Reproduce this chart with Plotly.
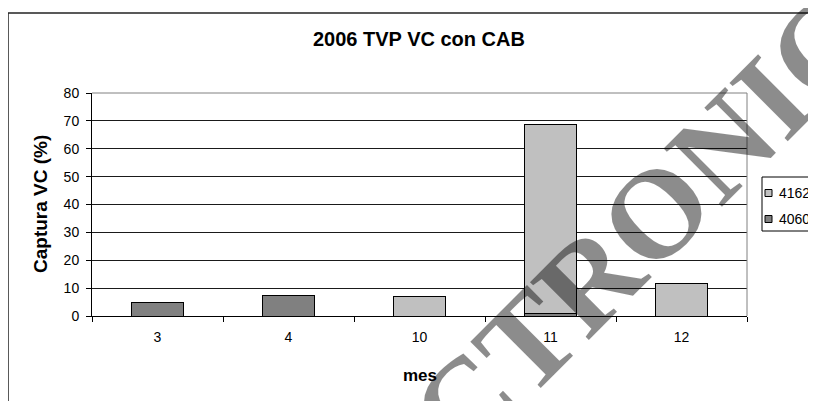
import plotly.graph_objects as go

# ---- data ----
months = ["3", "4", "10", "11", "12"]
serie_4060 = [5.0, 7.3, None, 1.0, None]
serie_4162 = [None, None, 6.9, 67.6, 11.8]
y_ticks = [0, 10, 20, 30, 40, 50, 60, 70, 80]
legend_names = ["4162", "4060"]
legend_colors = ["#C0C0C0", "#808080"]

# page is offset by the default 8px body margin
OFF = 8
W, H = 816 - OFF, 401 - OFF
# plot area in page pixels: x 92..747, y 93..316
L, R, T, B = 92 - OFF, 747 - OFF, 93 - OFF, 316 - OFF

def px(x):
    return (x - OFF - L) / (R - L)

def py(y):
    return (B - (y - OFF)) / (B - T)

fig = go.Figure()
fig.add_trace(go.Bar(
    x=months, y=serie_4060, name="4060",
    marker=dict(color="#808080", line=dict(color="#000000", width=1)),
))
fig.add_trace(go.Bar(
    x=months, y=serie_4162, name="4162",
    marker=dict(color="#C0C0C0", line=dict(color="#000000", width=1)),
))

font_family = "Liberation Sans, Arial, sans-serif"

shapes = [
    # plot area border (gray top/right)
    dict(type="line", xref="paper", yref="paper", x0=0, x1=1, y0=1, y1=1,
         line=dict(color="#808080", width=1)),
    dict(type="line", xref="paper", yref="paper", x0=1, x1=1, y0=0, y1=1,
         line=dict(color="#808080", width=1)),
    # outer chart frame (top + left edges visible)
    dict(type="line", xref="paper", yref="paper", x0=px(8), x1=px(840),
         y0=py(13), y1=py(13), line=dict(color="#222222", width=1.5)),
    dict(type="line", xref="paper", yref="paper", x0=px(8), x1=px(8),
         y0=py(13), y1=py(420), line=dict(color="#222222", width=1.5)),
    # legend box
    dict(type="rect", xref="paper", yref="paper", x0=px(762), x1=px(840),
         y0=py(231), y1=py(177), line=dict(color="#000000", width=1),
         fillcolor="white"),
]
annotations = []
leg_y = [193, 219]
for name, col, yy in zip(legend_names, legend_colors, leg_y):
    shapes.append(dict(type="rect", xref="paper", yref="paper",
                       x0=px(765), x1=px(772), y0=py(yy + 3.5), y1=py(yy - 3.5),
                       line=dict(color="#000000", width=1), fillcolor=col))
    annotations.append(dict(text=name, xref="paper", yref="paper",
                            x=px(777), y=py(yy), xanchor="left", yanchor="middle",
                            showarrow=False,
                            font=dict(size=14, family=font_family, color="#000")))

annotations += [
    dict(text="<b>2006 TVP VC con CAB</b>", xref="paper", yref="paper",
         x=px(419), y=py(39), xanchor="center", yanchor="middle",
         showarrow=False, font=dict(size=20, family=font_family, color="#000")),
    dict(text="<b>Captura VC (%)</b>", xref="paper", yref="paper",
         x=px(40), y=py(204), xanchor="center", yanchor="middle", textangle=-90,
         showarrow=False, font=dict(size=19, family=font_family, color="#000")),
    dict(text="<b>mes</b>", xref="paper", yref="paper",
         x=px(420), y=py(375), xanchor="center", yanchor="middle",
         showarrow=False, font=dict(size=17, family=font_family, color="#000")),
    # watermark
    dict(text="ELECTRONICO", xref="paper", yref="paper",
         x=px(588), y=py(280), xanchor="center", yanchor="middle", textangle=-45,
         showarrow=False,
         font=dict(size=126, family="Liberation Serif, Times New Roman, serif",
                   color="rgba(0,0,0,0.45)", weight="bold")),
]

fig.update_layout(
    width=W, height=H,
    margin=dict(l=L, r=W - R, t=T, b=H - B, autoexpand=False),
    paper_bgcolor="white", plot_bgcolor="white",
    barmode="stack", bargap=0.6,
    showlegend=False,
    font=dict(family=font_family, color="#000"),
    xaxis=dict(
        type="category", categoryorder="array", categoryarray=months,
        showgrid=False, showline=True, linecolor="#000", linewidth=1,
        ticks="outside", tickson="boundaries", ticklen=5, tickcolor="#000",
        tickfont=dict(size=14, family=font_family, color="#000"),
        ticklabelstandoff=8,
        zeroline=False,
    ),
    yaxis=dict(
        range=[0, 80], tickvals=y_ticks, showgrid=True, gridcolor="#1a1a1a",
        gridwidth=1, showline=True, linecolor="#000", linewidth=1,
        ticks="outside", ticklen=5, tickcolor="#000",
        tickfont=dict(size=14, family=font_family, color="#000"),
        ticklabelstandoff=4,
        zeroline=False,
    ),
    shapes=shapes,
    annotations=annotations,
)

fig.write_html("out.html")
